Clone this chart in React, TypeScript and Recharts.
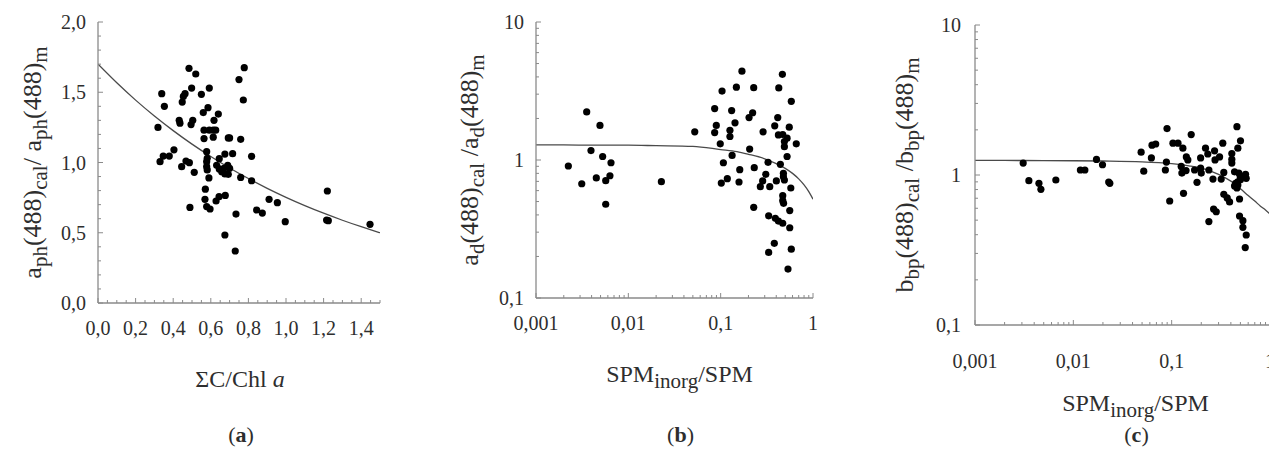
import React from 'react';
import { ComposedChart, Scatter, Line, XAxis, YAxis } from 'recharts';

const FONT = '"Liberation Serif", "DejaVu Serif", serif';
const AXIS_COLOR = '#8a8a8a';
const TEXT_COLOR = '#2e2e2e';
const CURVE_COLOR = '#4a4a4a';

// ---------- Panel (a): ΣC/Chl a vs aph ratio ----------
const chlRatio = [0.484, 0.52, 0.778, 0.75, 0.773, 0.339, 0.353, 0.454, 0.463, 0.448, 0.498, 0.55, 0.592, 0.585, 0.56, 0.64, 0.617, 0.432, 0.436, 0.504, 0.495, 0.319, 0.564, 0.592, 0.613, 0.626, 0.564, 0.613, 0.693, 0.70, 0.759, 0.404, 0.379, 0.347, 0.33, 0.445, 0.468, 0.486, 0.512, 0.578, 0.581, 0.578, 0.578, 0.581, 0.59, 0.645, 0.675, 0.716, 0.817, 0.631, 0.645, 0.658, 0.675, 0.69, 0.70, 0.67, 0.693, 0.759, 0.817, 0.571, 0.569, 0.578, 0.596, 0.628, 0.644, 0.677, 0.489, 0.734, 0.675, 0.73, 0.844, 0.874, 0.91, 0.954, 0.996, 1.22, 1.216, 1.225, 1.447];
const aphRatio = [1.67, 1.63, 1.675, 1.59, 1.445, 1.49, 1.40, 1.47, 1.49, 1.43, 1.53, 1.485, 1.53, 1.39, 1.355, 1.345, 1.30, 1.30, 1.28, 1.30, 1.27, 1.25, 1.23, 1.23, 1.23, 1.23, 1.17, 1.18, 1.175, 1.175, 1.165, 1.09, 1.046, 1.046, 1.006, 0.97, 1.01, 0.999, 0.93, 1.077, 1.03, 1.006, 0.97, 0.947, 0.89, 1.027, 1.06, 1.063, 1.044, 0.98, 0.954, 0.935, 0.918, 0.98, 0.959, 0.959, 0.916, 0.894, 0.87, 0.81, 0.738, 0.686, 0.669, 0.726, 0.757, 0.766, 0.68, 0.633, 0.484, 0.37, 0.662, 0.64, 0.738, 0.714, 0.579, 0.797, 0.59, 0.586, 0.56];
const fitAX = [0, 0.1, 0.2, 0.3, 0.4, 0.5, 0.6, 0.7, 0.8, 0.9, 1.0, 1.1, 1.2, 1.3, 1.4, 1.5];
const fitAY = [1.70, 1.567, 1.444, 1.331, 1.227, 1.131, 1.043, 0.961, 0.886, 0.816, 0.752, 0.693, 0.639, 0.589, 0.543, 0.50];

// ---------- Panel (b): SPMinorg/SPM vs ad ratio ----------
const spmB = [0.00224, 0.00313, 0.00354, 0.00394, 0.0045, 0.00493, 0.00527, 0.00569, 0.00632, 0.00649, 0.00569, 0.0228, 0.0524, 0.0861, 0.1035, 0.148, 0.170, 0.228, 0.1315, 0.222, 0.203, 0.0897, 0.0861, 0.143, 0.126, 0.126, 0.099, 0.288, 0.206, 0.133, 0.107, 0.161, 0.118, 0.1016, 0.158, 0.231, 0.308, 0.326, 0.269, 0.285, 0.34, 0.401, 0.443, 0.415, 0.385, 0.422, 0.47, 0.524, 0.49, 0.49, 0.553, 0.659, 0.524, 0.582, 0.426, 0.466, 0.478, 0.478, 0.49, 0.575, 0.47, 0.47, 0.48, 0.56, 0.228, 0.331, 0.391, 0.422, 0.47, 0.56, 0.381, 0.331, 0.582, 0.536];
const adRatio = [0.905, 0.673, 2.23, 1.17, 0.741, 1.78, 1.06, 0.708, 0.769, 0.955, 0.478, 0.697, 1.6, 2.36, 3.16, 3.37, 4.40, 3.34, 2.28, 2.20, 2.03, 1.78, 1.58, 1.86, 1.64, 1.48, 1.31, 1.60, 1.20, 1.08, 0.955, 0.851, 0.732, 0.681, 0.693, 0.88, 0.787, 0.962, 0.641, 0.705, 0.641, 0.705, 0.931, 2.03, 1.77, 1.52, 1.53, 1.44, 1.36, 1.25, 1.73, 1.31, 1.06, 2.66, 3.33, 4.18, 0.801, 0.757, 0.716, 0.627, 0.551, 0.507, 0.485, 0.43, 0.454, 0.394, 0.378, 0.361, 0.348, 0.323, 0.249, 0.214, 0.226, 0.162];
const fitBX = [0.001, 0.002, 0.005, 0.01, 0.02, 0.05, 0.1, 0.15, 0.2, 0.3, 0.4, 0.5, 0.6, 0.7, 0.8, 0.9, 1.0];
const fitBY = [1.285, 1.285, 1.28, 1.28, 1.27, 1.255, 1.19, 1.15, 1.10, 1.02, 0.94, 0.87, 0.80, 0.73, 0.66, 0.59, 0.52];

// ---------- Panel (c): SPMinorg/SPM vs bbp ratio ----------
const spmC = [0.00309, 0.00353, 0.00447, 0.00468, 0.00664, 0.0118, 0.0131, 0.0172, 0.0198, 0.0229, 0.0235, 0.0489, 0.052, 0.0622, 0.0631, 0.0688, 0.0897, 0.0884, 0.0863, 0.0955, 0.103, 0.116, 0.130, 0.141, 0.146, 0.125, 0.14, 0.127, 0.132, 0.158, 0.181, 0.197, 0.197, 0.2, 0.171, 0.221, 0.233, 0.239, 0.239, 0.263, 0.267, 0.284, 0.273, 0.276, 0.307, 0.331, 0.339, 0.319, 0.339, 0.367, 0.388, 0.409, 0.409, 0.409, 0.436, 0.461, 0.471, 0.501, 0.447, 0.471, 0.482, 0.498, 0.49, 0.49, 0.53, 0.53, 0.573, 0.56, 0.564, 0.573, 0.436, 0.461, 0.47, 0.5, 0.55];
const bbpRatio = [1.20, 0.916, 0.88, 0.803, 0.926, 1.08, 1.08, 1.27, 1.17, 0.898, 0.88, 1.42, 1.06, 1.30, 1.58, 1.61, 2.04, 1.22, 1.08, 0.671, 1.63, 1.63, 1.51, 1.32, 1.26, 1.14, 1.07, 1.03, 0.755, 1.86, 0.894, 1.30, 1.11, 1.03, 1.08, 1.51, 1.38, 1.08, 0.489, 0.94, 0.593, 0.569, 1.45, 1.26, 1.32, 1.63, 1.04, 0.94, 0.743, 0.703, 0.661, 1.39, 1.27, 1.20, 1.05, 2.10, 1.51, 1.69, 0.88, 0.858, 1.03, 0.975, 0.692, 0.533, 0.496, 0.448, 0.398, 0.328, 1.01, 0.95, 0.845, 0.82, 0.9, 0.93, 0.98];
const fitCX = [0.001, 0.002, 0.005, 0.01, 0.02, 0.05, 0.1, 0.15, 0.2, 0.3, 0.4, 0.5, 0.6, 0.7, 0.8, 0.9, 1.0];
const fitCY = [1.25, 1.25, 1.248, 1.245, 1.24, 1.225, 1.19, 1.15, 1.11, 1.01, 0.91, 0.81, 0.73, 0.67, 0.62, 0.585, 0.55];

// ---------- Ticks ----------
const linXTicks = [0, 0.05, 0.1, 0.15, 0.2, 0.25, 0.3, 0.35, 0.4, 0.45, 0.5, 0.55, 0.6, 0.65, 0.7, 0.75, 0.8, 0.85, 0.9, 0.95, 1.0, 1.05, 1.1, 1.15, 1.2, 1.25, 1.3, 1.35, 1.4, 1.45, 1.5];
const linXMajor = [0, 0.2, 0.4, 0.6, 0.8, 1.0, 1.2, 1.4];
const linYTicks = [0, 0.1, 0.2, 0.3, 0.4, 0.5, 0.6, 0.7, 0.8, 0.9, 1.0, 1.1, 1.2, 1.3, 1.4, 1.5, 1.6, 1.7, 1.8, 1.9, 2.0];
const linYMajor = [0, 0.5, 1.0, 1.5, 2.0];
const logXTicks = [0.001, 0.002, 0.003, 0.004, 0.005, 0.006, 0.007, 0.008, 0.009, 0.01, 0.02, 0.03, 0.04, 0.05, 0.06, 0.07, 0.08, 0.09, 0.1, 0.2, 0.3, 0.4, 0.5, 0.6, 0.7, 0.8, 0.9, 1];
const logXMajor = [0.001, 0.01, 0.1, 1];
const logXLabels = ['0,001', '0,01', '0,1', '1'];
const logYTicks = [0.1, 0.2, 0.3, 0.4, 0.5, 0.6, 0.7, 0.8, 0.9, 1, 2, 3, 4, 5, 6, 7, 8, 9, 10];
const logYMajor = [0.1, 1, 10];
const logYLabels = ['0,1', '1', '10'];

const zip = (xs: number[], ys: number[]) => xs.map((x, i) => ({ x, y: ys[i] }));
const dataA = zip(chlRatio, aphRatio);
const curveA = zip(fitAX, fitAY);
const dataB = zip(spmB, adRatio);
const curveB = zip(fitBX, fitBY);
const dataC = zip(spmC, bbpRatio);
const curveC = zip(fitCX, fitCY);

const isIn = (list: number[], v: number) => list.findIndex((m) => Math.abs(m - v) <= Math.abs(m) * 1e-6 + 1e-9);
const commaFmt = (v: number) => v.toFixed(1).replace('.', ',');

type Orient = 'bottom' | 'top' | 'left' | 'right';
const makeTick = (orient: Orient, majors: number[], labelFor: ((v: number, idx: number) => string) | null, gap: number) =>
  (props: any) => {
    const { x, y, payload } = props;
    const v = payload.value;
    const idx = isIn(majors, v);
    const major = idx >= 0;
    const len = major ? 5 : 3;
    let line: any = null;
    if (orient === 'bottom') line = <line x1={x} y1={y} x2={x} y2={y - len} />;
    if (orient === 'top') line = <line x1={x} y1={y} x2={x} y2={y + len} />;
    if (orient === 'left') line = <line x1={x} y1={y} x2={x + len} y2={y} />;
    if (orient === 'right') line = <line x1={x} y1={y} x2={x - len} y2={y} />;
    let label: any = null;
    if (labelFor && major) {
      const txt = labelFor(v, idx);
      if (orient === 'bottom') {
        label = <text x={x} y={y + gap} textAnchor="middle" dominantBaseline="central" fill={TEXT_COLOR} stroke="none" fontSize={20} fontFamily={FONT}>{txt}</text>;
      } else if (orient === 'left') {
        label = <text x={x - gap} y={y} textAnchor="end" dominantBaseline="central" fill={TEXT_COLOR} stroke="none" fontSize={20} fontFamily={FONT}>{txt}</text>;
      }
    }
    return (
      <g stroke={AXIS_COLOR} strokeWidth={1}>
        {line}
        {label}
      </g>
    );
  };

const SUB = 21;
const MAIN = 26;

const yTitle = (parts: [string, string][], offset: number) => (props: any) => {
  const vb = props.viewBox || {};
  const x = vb.x + vb.width - offset;
  const y = vb.y + vb.height / 2;
  const spans: any[] = [];
  let shifted = false;
  parts.forEach(([txt, kind], i) => {
    if (kind === 'sub') {
      spans.push(<tspan key={i} dy={shifted ? 0 : 6} fontSize={SUB}>{txt}</tspan>);
      shifted = true;
    } else {
      spans.push(<tspan key={i} dy={shifted ? -6 : 0}>{txt}</tspan>);
      shifted = false;
    }
  });
  return (
    <text x={x} y={y} transform={`rotate(-90 ${x} ${y})`} textAnchor="middle" fontSize={MAIN} fontFamily={FONT} fill={TEXT_COLOR}>
      {spans}
    </text>
  );
};

const xTitle = (kind: 'chl' | 'spm', titleDy: number, captionDy: number, dx: number, letter: string) => (props: any) => {
  const vb = props.viewBox || {};
  const cx = vb.x + vb.width / 2 + dx;
  const top = vb.y;
  return (
    <g>
      {kind === 'chl' ? (
        <text x={cx} y={top + titleDy} textAnchor="middle" fontSize={24} fontFamily={FONT} fill={TEXT_COLOR}>
          ΣC/Chl <tspan fontStyle="italic">a</tspan>
        </text>
      ) : (
        <text x={cx} y={top + titleDy} textAnchor="middle" fontSize={24} fontFamily={FONT} fill={TEXT_COLOR}>
          SPM<tspan dy={6} fontSize={SUB}>inorg</tspan><tspan dy={-6}>/SPM</tspan>
        </text>
      )}
      <text x={cx + 1} y={top + captionDy} textAnchor="middle" fontSize={22} fontFamily={FONT} fill={TEXT_COLOR}>
        (<tspan fontWeight="bold">{letter}</tspan>)
      </text>
    </g>
  );
};

const dot = (p: any) => <circle cx={p.cx} cy={p.cy} r={3.6} fill="#000" />;

const axisLine = { stroke: AXIS_COLOR, strokeWidth: 1.3 };

export default function App() {
  return (
    <div style={{ position: 'absolute', left: 0, top: 0, width: 1269, height: 452, overflow: 'hidden', background: '#fff' }}>
      {/* Panel (a) */}
      <div style={{ position: 'absolute', left: 0, top: 0 }}>
        <ComposedChart width={430} height={452} margin={{ top: 22, left: 38, right: 50, bottom: 9 }}>
          <XAxis xAxisId={0} dataKey="x" type="number" domain={[0, 1.5]} allowDataOverflow ticks={linXTicks} interval={0}
            tickSize={0} tickMargin={0} height={140} axisLine={axisLine} tickLine={false}
            tick={makeTick('bottom', linXMajor, (v) => commaFmt(v), 25)}
            label={xTitle('chl', 84, 139, 1, 'a')} />
          <XAxis xAxisId="top" orientation="top" dataKey="x" type="number" domain={[0, 1.5]} allowDataOverflow ticks={linXTicks} interval={0}
            tickSize={0} tickMargin={0} height={0} axisLine={axisLine} tickLine={false}
            tick={makeTick('top', linXMajor, null, 0)} />
          <YAxis yAxisId={0} dataKey="y" type="number" domain={[0, 2]} allowDataOverflow ticks={linYTicks} interval={0}
            tickSize={0} tickMargin={0} width={60} axisLine={axisLine} tickLine={false}
            tick={makeTick('left', linYMajor, (v) => commaFmt(v), 12)}
            label={yTitle([['a', 'n'], ['ph', 'sub'], ['(488)', 'n'], ['cal', 'sub'], ['/ a', 'n'], ['ph', 'sub'], ['(488)', 'n'], ['m', 'sub']], 57)} />
          <YAxis yAxisId="right" orientation="right" dataKey="y" type="number" domain={[0, 2]} allowDataOverflow ticks={linYTicks} interval={0}
            tickSize={0} tickMargin={0} width={0} axisLine={axisLine} tickLine={false}
            tick={makeTick('right', linYMajor, null, 0)} />
          <Line data={curveA} dataKey="y" type="natural" dot={false} activeDot={false} stroke={CURVE_COLOR} strokeWidth={1.3} isAnimationActive={false} />
          <Scatter data={dataA} dataKey="y" shape={dot} isAnimationActive={false} />
        </ComposedChart>
      </div>

      {/* Panel (b) */}
      <div style={{ position: 'absolute', left: 430, top: 0 }}>
        <ComposedChart width={420} height={452} margin={{ top: 22, left: 46, right: 37, bottom: 14 }}>
          <XAxis xAxisId={0} dataKey="x" type="number" scale="log" domain={[0.001, 1]} allowDataOverflow ticks={logXTicks} interval={0}
            tickSize={0} tickMargin={0} height={140} axisLine={axisLine} tickLine={false}
            tick={makeTick('bottom', logXMajor, (_v, i) => logXLabels[i], 25)}
            label={xTitle('spm', 84, 144, 5, 'b')} />
          <XAxis xAxisId="top" orientation="top" dataKey="x" type="number" scale="log" domain={[0.001, 1]} allowDataOverflow ticks={logXTicks} interval={0}
            tickSize={0} tickMargin={0} height={0} axisLine={axisLine} tickLine={false}
            tick={makeTick('top', logXMajor, null, 0)} />
          <YAxis yAxisId={0} dataKey="y" type="number" scale="log" domain={[0.1, 10]} allowDataOverflow ticks={logYTicks} interval={0}
            tickSize={0} tickMargin={0} width={60} axisLine={axisLine} tickLine={false}
            tick={makeTick('left', logYMajor, (_v, i) => logYLabels[i], 12)}
            label={yTitle([['a', 'n'], ['d', 'sub'], ['(488)', 'n'], ['cal', 'sub'], [' /a', 'n'], ['d', 'sub'], ['(488)', 'n'], ['m', 'sub']], 58)} />
          <YAxis yAxisId="right" orientation="right" dataKey="y" type="number" scale="log" domain={[0.1, 10]} allowDataOverflow ticks={logYTicks} interval={0}
            tickSize={0} tickMargin={0} width={0} axisLine={axisLine} tickLine={false}
            tick={makeTick('right', logYMajor, null, 0)} />
          <Line data={curveB} dataKey="y" type="monotone" dot={false} activeDot={false} stroke={CURVE_COLOR} strokeWidth={1.3} isAnimationActive={false} />
          <Scatter data={dataB} dataKey="y" shape={dot} isAnimationActive={false} />
        </ComposedChart>
      </div>

      {/* Panel (c) */}
      <div style={{ position: 'absolute', left: 850, top: 0 }}>
        <ComposedChart width={440} height={452} margin={{ top: 25, left: 65, right: 20, bottom: 7 }}>
          <XAxis xAxisId={0} dataKey="x" type="number" scale="log" domain={[0.001, 1]} allowDataOverflow ticks={logXTicks} interval={0}
            tickSize={0} tickMargin={0} height={120} axisLine={axisLine} tickLine={false}
            tick={makeTick('bottom', logXMajor, (_v, i) => logXLabels[i], 36)}
            label={xTitle('spm', 86, 117, 13, 'c')} />
          <XAxis xAxisId="top" orientation="top" dataKey="x" type="number" scale="log" domain={[0.001, 1]} allowDataOverflow ticks={logXTicks} interval={0}
            tickSize={0} tickMargin={0} height={0} axisLine={axisLine} tickLine={false}
            tick={makeTick('top', logXMajor, null, 0)} />
          <YAxis yAxisId={0} dataKey="y" type="number" scale="log" domain={[0.1, 10]} allowDataOverflow ticks={logYTicks} interval={0}
            tickSize={0} tickMargin={0} width={60} axisLine={axisLine} tickLine={false}
            tick={makeTick('left', logYMajor, (_v, i) => logYLabels[i], 14)}
            label={yTitle([['b', 'n'], ['bp', 'sub'], ['(488)', 'n'], ['cal', 'sub'], [' /b', 'n'], ['bp', 'sub'], ['(488)', 'n'], ['m', 'sub']], 62)} />
          <YAxis yAxisId="right" orientation="right" dataKey="y" type="number" scale="log" domain={[0.1, 10]} allowDataOverflow ticks={logYTicks} interval={0}
            tickSize={0} tickMargin={0} width={0} axisLine={axisLine} tickLine={false}
            tick={makeTick('right', logYMajor, null, 0)} />
          <Line data={curveC} dataKey="y" type="monotone" dot={false} activeDot={false} stroke={CURVE_COLOR} strokeWidth={1.3} isAnimationActive={false} />
          <Scatter data={dataC} dataKey="y" shape={dot} isAnimationActive={false} />
        </ComposedChart>
      </div>
    </div>
  );
}
